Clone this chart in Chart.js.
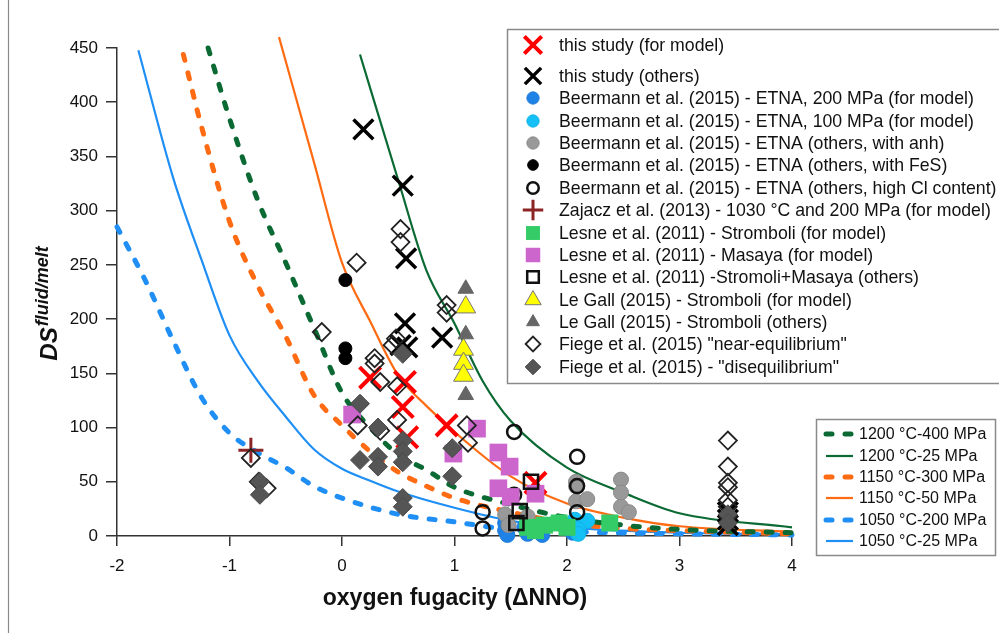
<!DOCTYPE html>
<html><head><meta charset="utf-8">
<script src="https://cdn.jsdelivr.net/npm/chart.js@4.4.0/dist/chart.umd.min.js"></script>
<style>html,body{margin:0;padding:0;background:#fff;}</style>
</head><body>
<canvas id="c" width="999" height="633"></canvas>
<script>
// ---------- tick labels ----------
const xTicks = [-2, -1, 0, 1, 2, 3, 4];
const yTicks = [0, 50, 100, 150, 200, 250, 300, 350, 400, 450];

// ---------- model curves ----------
const c1200_400_x = [-1.19, -1.0, -0.75, -0.5, -0.25, 0, 0.25, 0.5, 0.75, 1.0, 1.5, 2.0, 2.5, 3.0, 4.0];
const c1200_400_y = [450, 385, 310, 252, 192, 132, 100, 75, 61, 45, 29, 17, 10, 6, 3];
const c1200_25_x = [0.16, 0.5, 0.75, 1.0, 1.25, 1.5, 2.0, 2.5, 3.0, 4.0];
const c1200_25_y = [444, 328, 245, 196, 143, 106, 63, 40, 21, 8];
const c1150_300_x = [-1.41, -1.25, -1.0, -0.75, -0.5, -0.25, 0, 0.25, 0.5, 0.75, 1.0, 1.5, 2.0, 2.5, 3.0, 4.0];
const c1150_300_y = [444, 378, 290, 231, 184, 130, 102, 78, 59, 46, 35, 22, 12, 7, 5, 2];
const c1150_50_x = [-0.56, -0.25, 0, 0.25, 0.5, 0.75, 1.0, 1.5, 2.0, 2.5, 3.0, 4.0];
const c1150_50_y = [460, 345, 252, 198, 148, 120, 96, 55, 30, 17, 9, 4];
const c1050_200_x = [-2.0, -1.75, -1.5, -1.25, -1.0, -0.75, -0.5, -0.25, 0, 0.5, 1.0, 1.5, 2.0, 3.0, 4.0];
const c1050_200_y = [285, 236, 180, 128, 95, 77, 63, 46, 35, 20, 13, 6, 4, 2, 1];
const c1050_25_x = [-1.81, -1.5, -1.25, -1.0, -0.75, -0.5, -0.25, 0, 0.25, 0.5, 1.0, 1.5, 2.0, 3.0, 4.0];
const c1050_25_y = [448, 330, 255, 185, 143, 110, 80, 62, 51, 41, 26, 14, 8, 3, 1.5];

// ---------- measured points ----------
const thisModel_x = [0.25, 0.56, 0.54, 0.58, 0.93, 1.72];
const thisModel_y = [146, 142, 119, 91, 102, 49];
const thisOther_x = [0.19, 0.54, 0.57, 0.56, 0.52, 0.58, 0.89, 3.43, 3.43, 3.43];
const thisOther_y = [375, 323, 256, 196, 176, 174, 183, 22, 15, 10];
const beer200_x = [1.45, 1.45, 1.47, 1.62, 1.65, 1.75, 1.78, 2.05];
const beer200_y = [12, 5, 1, 8, 2, 6, 1, 3];
const beer100_x = [2.07, 2.18, 2.1, 2.1];
const beer100_y = [15, 14, 6, 2];
const beerAnh_x = [1.45, 1.65, 2.08, 2.08, 2.08, 2.18, 2.48, 2.48, 2.48, 2.55, 1.48];
const beerAnh_y = [20, 18, 50, 46, 32, 34, 52, 40, 27, 22, 10];
const beerFeS_x = [0.03, 0.03, 0.03];
const beerFeS_y = [236, 173, 164];
const beerCl_x = [1.53, 2.09, 1.53, 1.25, 1.25, 2.09, 2.09];
const beerCl_y = [96, 73, 38, 22, 7, 46, 22];
const zaj_x = [-0.81];
const zaj_y = [79];
const lesStr_x = [1.65, 1.8, 1.93, 2.0, 2.38, 1.72];
const lesStr_y = [8, 10, 12, 8, 12, 5];
const lesMas_x = [0.09, 1.2, 0.99, 1.39, 1.49, 1.39, 1.5, 1.72];
const lesMas_y = [112, 99, 76, 77, 64, 44, 36, 39];
const lesOth_x = [1.68, 1.58, 1.55];
const lesOth_y = [50, 23, 12];
const galModel_x = [1.1, 1.08, 1.08, 1.08];
const galModel_y = [211, 172, 159, 148];
const galOth_x = [1.1, 1.1, 1.1];
const galOth_y = [228, 186, 130];
const fiegeEq_x = [0.13, 0.52, 0.52, -0.18, 0.93, 0.93, 0.29, 0.29, 0.34, 0.48, 0.45, 0.49, 0.49, 0.14, 0.34, 1.11, 1.12, -0.81, -0.74, -0.67, 3.43, 3.43, 3.43, 3.43, 3.43, 3.43, 3.43];
const fiegeEq_y = [252, 283, 271, 188, 213, 206, 164, 159, 142, 182, 176, 138, 107, 102, 97, 102, 86, 72, 50, 44, 88, 64, 49, 45, 33, 27, 18];
const fiegeDis_x = [0.16, 0.32, 0.16, 0.32, 0.32, 0.54, 0.54, 0.54, 0.54, 0.54, 0.54, 0.98, 0.98, -0.73, -0.73, 3.43, 3.43];
const fiegeDis_y = [122, 100, 70, 73, 64, 88, 78, 68, 35, 27, 168, 81, 55, 50, 38, 20, 12];

// ---------- legend labels ----------
const legendLabels = [
  'this study (for model)', 'this study (others)',
  'Beermann et al. (2015) - ETNA, 200 MPa (for model)',
  'Beermann et al. (2015) - ETNA, 100 MPa (for model)',
  'Beermann et al. (2015) - ETNA (others, with anh)',
  'Beermann et al. (2015) - ETNA (others, with FeS)',
  'Beermann et al. (2015) - ETNA (others, high Cl content)',
  'Zajacz et al. (2013) - 1030 \u00B0C and 200 MPa (for model)',
  'Lesne et al. (2011) - Stromboli (for model)',
  'Lesne et al. (2011) - Masaya (for model)',
  'Lesne et al. (2011) -Stromoli+Masaya (others)',
  'Le Gall (2015) - Stromboli (for model)',
  'Le Gall (2015) - Stromboli (others)',
  'Fiege et al. (2015) "near-equilibrium"',
  'Fiege et al. (2015) - "disequilibrium"'
];
const curveLabels = ['1200 \u00B0C-400 MPa', '1200 \u00B0C-25 MPa', '1150 \u00B0C-300 MPa', '1150 \u00B0C-50 MPa', '1050 \u00B0C-200 MPa', '1050 \u00B0C-25 MPa'];

// ---------- build datasets ----------
const pts = (xs, ys) => xs.map((x, i) => ({x: x, y: ys[i]}));
const NONE = 'rgba(0,0,0,0)';
const GREEN = '#0b6a33', ORANGE = '#ff6b12', BLUE = '#1f8ff5';

const curveDefs = [
  {x: c1200_400_x, y: c1200_400_y, color: GREEN, dash: true},
  {x: c1200_25_x, y: c1200_25_y, color: GREEN, dash: false},
  {x: c1150_300_x, y: c1150_300_y, color: ORANGE, dash: true},
  {x: c1150_50_x, y: c1150_50_y, color: ORANGE, dash: false},
  {x: c1050_200_x, y: c1050_200_y, color: BLUE, dash: true},
  {x: c1050_25_x, y: c1050_25_y, color: BLUE, dash: false}
];

const markerDefs = [
  {x: thisModel_x, y: thisModel_y, style: 'crossRot', r: 15, bg: NONE, bc: '#ff0000', bw: 4},
  {x: thisOther_x, y: thisOther_y, style: 'crossRot', r: 14, bg: NONE, bc: '#000000', bw: 3.5},
  {x: beer200_x, y: beer200_y, style: 'circle', r: 7.5, bg: '#1e82e6', bc: '#1e7bd8', bw: 1},
  {x: beer100_x, y: beer100_y, style: 'circle', r: 7.5, bg: '#14c0f5', bc: '#12b4e6', bw: 1},
  {x: beerAnh_x, y: beerAnh_y, style: 'circle', r: 7.5, bg: '#999999', bc: '#8a8a8a', bw: 1},
  {x: beerFeS_x, y: beerFeS_y, style: 'circle', r: 6.5, bg: '#000000', bc: '#000000', bw: 1},
  {x: beerCl_x, y: beerCl_y, style: 'circle', r: 7, bg: NONE, bc: '#111111', bw: 2.5},
  {x: zaj_x, y: zaj_y, style: 'cross', r: 12.5, bg: NONE, bc: '#8b2525', bw: 3},
  {x: lesStr_x, y: lesStr_y, style: 'rect', r: 12, bg: '#33cc66', bc: '#33cc66', bw: 0},
  {x: lesMas_x, y: lesMas_y, style: 'rect', r: 12.5, bg: '#cc66cc', bc: '#cc66cc', bw: 0},
  {x: lesOth_x, y: lesOth_y, style: 'rect', r: 10, bg: NONE, bc: '#111111', bw: 2.5},
  {x: galModel_x, y: galModel_y, style: 'triangle', r: 11.5, bg: '#ffff00', bc: '#777777', bw: 1},
  {x: galOth_x, y: galOth_y, style: 'triangle', r: 9, bg: '#666666', bc: '#666666', bw: 1},
  {x: fiegeEq_x, y: fiegeEq_y, style: 'rectRot', r: 9, bg: NONE, bc: '#222222', bw: 1.8},
  {x: fiegeDis_x, y: fiegeDis_y, style: 'rectRot', r: 9.5, bg: '#555555', bc: '#4a4a4a', bw: 1}
];

const datasets = [];
curveDefs.forEach((c, i) => {
  datasets.push({
    label: curveLabels[i], data: pts(c.x, c.y), showLine: true, pointRadius: 0,
    borderColor: c.color, borderWidth: c.dash ? 5 : 2.2,
    borderDash: c.dash ? [6, 13] : [], borderCapStyle: c.dash ? 'round' : 'butt',
    tension: 0.25, cubicInterpolationMode: 'monotone', clip: false, order: 20, fill: false
  });
});
markerDefs.forEach((m, i) => {
  datasets.push({
    label: legendLabels[i], data: pts(m.x, m.y), showLine: false,
    pointStyle: m.style, pointRadius: m.r, pointHoverRadius: m.r,
    pointBackgroundColor: m.bg, pointBorderColor: m.bc, pointBorderWidth: m.bw,
    order: 10 - i * 0.1, clip: false
  });
});

const FONT = "'Liberation Sans', Arial, sans-serif";

const decor = {
  id: 'decor',
  afterDraw(chart) {
    const ctx = chart.ctx;
    const H = Chart.helpers;
    ctx.save();
    // frame line at left
    ctx.strokeStyle = '#8a8a8a'; ctx.lineWidth = 1.2;
    ctx.beginPath(); ctx.moveTo(8.5, 0); ctx.lineTo(8.5, 633); ctx.stroke();

    // y title (rotated, with superscript)
    ctx.save();
    ctx.translate(57, 304);
    ctx.rotate(-Math.PI / 2);
    ctx.fillStyle = '#111';
    ctx.textBaseline = 'alphabetic';
    const f1 = "italic bold 24px " + FONT, f2 = "italic bold 18px " + FONT;
    ctx.font = f1; const w1 = ctx.measureText('DS').width;
    ctx.font = f2; const w2 = ctx.measureText('fluid/melt').width;
    const x0 = -(w1 + w2) / 2;
    ctx.font = f1; ctx.fillText('DS', x0, 0);
    ctx.font = f2; ctx.fillText('fluid/melt', x0 + w1 + 1, -9);
    ctx.restore();

    // x title
    ctx.fillStyle = '#111';
    ctx.font = "bold 23px " + FONT;
    ctx.textAlign = 'center'; ctx.textBaseline = 'alphabetic';
    ctx.fillText('oxygen fugacity (\u0394NNO)', 455, 605);

    // legend 1
    ctx.fillStyle = '#fff';
    ctx.fillRect(507, 29, 500, 354);
    ctx.strokeStyle = '#8a8a8a'; ctx.lineWidth = 1.5;
    ctx.strokeRect(507.5, 29.5, 500, 354);
    const rows = [45, 76, 98, 121, 143, 165, 188, 210, 233, 255, 277, 300, 322, 344, 367];
    markerDefs.forEach((m, i) => {
      ctx.fillStyle = m.bg; ctx.strokeStyle = m.bc; ctx.lineWidth = m.bw; ctx.setLineDash([]);
      const sc = 0.82;
      H.drawPoint(ctx, {pointStyle: m.style, radius: m.r * sc, borderWidth: m.bw, rotation: 0}, 533, rows[i]);
      ctx.fillStyle = '#111';
      ctx.font = "17.7px " + FONT; ctx.textAlign = 'left'; ctx.textBaseline = 'middle';
      ctx.fillText(legendLabels[i], 559, rows[i] + 1);
    });

    // legend 2
    ctx.fillStyle = '#fff';
    ctx.fillRect(816, 419, 179, 136);
    ctx.strokeStyle = '#8a8a8a'; ctx.lineWidth = 1.5;
    ctx.strokeRect(816.5, 419.5, 179, 136);
    const rows2 = [434, 456, 477, 498, 520, 541];
    curveDefs.forEach((c, i) => {
      ctx.strokeStyle = c.color;
      if (c.dash) {
        ctx.lineWidth = 5; ctx.lineCap = 'round'; ctx.setLineDash([6, 13]);
      } else {
        ctx.lineWidth = 2.2; ctx.lineCap = 'butt'; ctx.setLineDash([]);
      }
      ctx.beginPath(); ctx.moveTo(826, rows2[i]); ctx.lineTo(853, rows2[i]); ctx.stroke();
      ctx.setLineDash([]);
      ctx.fillStyle = '#111';
      ctx.font = "16px " + FONT; ctx.textAlign = 'left'; ctx.textBaseline = 'middle';
      ctx.fillText(curveLabels[i], 859, rows2[i] + 1);
    });
    ctx.restore();
  }
};

new Chart(document.getElementById('c'), {
  type: 'scatter',
  data: {datasets: datasets},
  options: {
    responsive: false, animation: false, devicePixelRatio: 1,
    layout: {padding: {left: 0, right: 207, top: 48, bottom: 0}},
    plugins: {legend: {display: false}, tooltip: {enabled: false}},
    elements: {line: {fill: false}},
    scales: {
      x: {
        type: 'linear', min: xTicks[0], max: xTicks[xTicks.length - 1],
        afterBuildTicks(s) { s.ticks = xTicks.map(v => ({value: v})); },
        ticks: {font: {family: FONT, size: 17}, color: '#111', padding: 10, callback: v => String(v)},
        grid: {drawOnChartArea: false, drawTicks: true, tickLength: 10, color: '#333', lineWidth: 1.5},
        border: {color: '#333', width: 1.5},
        afterFit(s) { s.height = 97; }
      },
      y: {
        type: 'linear', min: yTicks[0], max: yTicks[yTicks.length - 1],
        afterBuildTicks(s) { s.ticks = yTicks.map(v => ({value: v})); },
        ticks: {font: {family: FONT, size: 17}, color: '#111', padding: 8, callback: v => String(v)},
        grid: {drawOnChartArea: false, drawTicks: true, tickLength: 11, color: '#333', lineWidth: 1.5},
        border: {color: '#333', width: 1.5},
        afterFit(s) { s.width = 117; }
      }
    }
  },
  plugins: [decor]
});
</script>
</body></html>
